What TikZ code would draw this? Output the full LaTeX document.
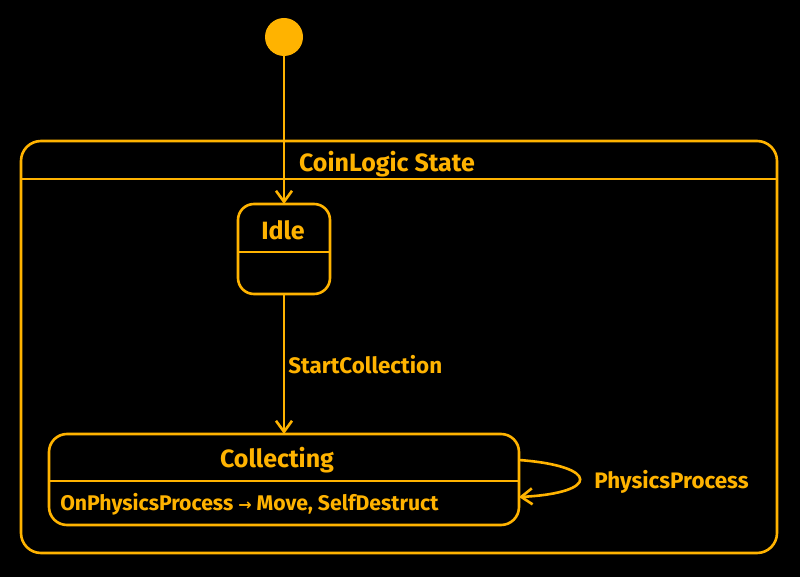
\documentclass[tikz,border=0pt]{standalone}
\usepackage{fontspec}
\setmainfont{Fira Sans}
\usetikzlibrary{arrows.meta,calc}
\definecolor{amber}{HTML}{FFB300}
\begin{document}
\begin{tikzpicture}[x=1pt,y=-1pt,
  line width=2.6pt, draw=amber, text=amber,
  lbl/.style={font=\fontsize{22.4}{25}\selectfont\bfseries, text=amber, inner sep=0pt},
  actlbl/.style={font=\fontsize{21.2}{24}\selectfont\bfseries, text=amber, inner sep=0pt},
  ttl/.style={font=\fontsize{25}{28}\selectfont\bfseries, text=amber, inner sep=0pt},
  state/.style={draw=amber, rounded corners=16pt, line width=2.6pt},
  arr/.style={-{Straight Barb[length=11pt,width=16pt,line width=2.6pt]}, amber, line width=2.6pt}]
\fill[black] (0,0) rectangle (800,577);
\useasboundingbox (0,0) rectangle (800,577);
% initial
\fill[amber] (284,37) circle (19);
\coordinate (init) at (284,56);
% composite
\draw[state, rounded corners=20pt] (21,141) rectangle (777,553);
\draw[amber] (21,179) -- (777,179);
\node[ttl] (title) at (387,164) {CoinLogic State};
% Idle
\draw[state] (238,204) rectangle (330,294);
\coordinate (idleT) at (284,204);
\coordinate (idleB) at (284,294);
\draw[amber] (238,252) -- (330,252);
\node[ttl] (idle) at (283,230) {Idle};
% Collecting
\draw[state, rounded corners=18pt] (49,434) rectangle (519,525);
\coordinate (colT) at (284,434);
\coordinate (colR1) at (519,460);
\coordinate (colR2) at (519,497);
\draw[amber] (49,481) -- (519,481);
\node[ttl] (coll) at (277,460) {Collecting};
\node[actlbl, anchor=west] (act) at (59,504) {OnPhysicsProcess {\fontspec{DejaVu Sans}\fontsize{16}{16}\selectfont →} Move, SelfDestruct};
% connectors
\draw[arr] (init) -- (idleT);
\draw[arr] (idleB) -- node[lbl, anchor=west, xshift=3pt, yshift=-1pt] (sc) {StartCollection} (colT);
\draw[arr] (colR1) .. controls (600,466) and (600,493) .. (colR2);
\node[lbl, anchor=west] (pp) at (593,482) {PhysicsProcess};
\end{tikzpicture}
\end{document}
